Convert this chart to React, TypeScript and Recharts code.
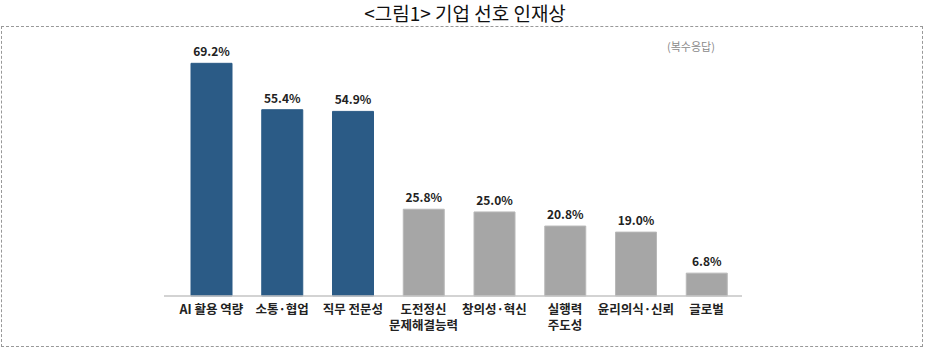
import React from "react";
import { BarChart, Bar, XAxis, YAxis, Cell, LabelList } from "recharts";

const categories: string[] = [
  "AI 활용 역량",
  "소통·협업",
  "직무 전문성",
  "도전정신\n문제해결능력",
  "창의성·혁신",
  "실행력\n주도성",
  "윤리의식·신뢰",
  "글로벌",
];
const values: number[] = [69.2, 55.4, 54.9, 25.8, 25.0, 20.8, 19.0, 6.8];
const highlighted: boolean[] = [true, true, true, false, false, false, false, false];

const data = categories.map((name, i) => ({ name, value: values[i], hi: highlighted[i] }));

const FONT = "'Noto Sans CJK KR', 'Noto Sans', sans-serif";

const Tick = (props: any) => {
  const { x, y, payload } = props;
  const lines = String(payload.value).split("\n");
  return (
    <text
      x={x}
      y={y + 10}
      textAnchor="middle"
      fontSize={12.5}
      fontWeight={700}
      fill="#222"
      fontFamily={FONT}
    >
      {lines.map((ln: string, i: number) => (
        <tspan key={i} x={x} dy={i === 0 ? 0 : 16}>
          {ln}
        </tspan>
      ))}
    </text>
  );
};

export default function App() {
  return (
    <div style={{ position: "absolute", left: 0, top: 0, width: 930, height: 353, background: "#fff" }}>
      <style>{"body{margin:0}"}</style>
      <div
        style={{
          position: "absolute",
          left: 0,
          top: 2,
          width: 930,
          textAlign: "center",
          fontFamily: FONT,
          fontSize: 19,
          lineHeight: "21px",
          color: "#111",
        }}
      >
        {"<그림1> 기업 선호 인재상"}
      </div>
      <div
        style={{
          position: "absolute",
          left: 1,
          top: 26,
          width: 920,
          height: 319,
          border: "1px dashed #999",
        }}
      />
      <div
        style={{
          position: "absolute",
          left: 667,
          top: 38,
          fontFamily: FONT,
          fontSize: 11,
          color: "#8a8a8a",
        }}
      >
        (복수응답)
      </div>
      <div style={{ position: "absolute", left: 0, top: 0 }}>
        <BarChart width={930} height={353} data={data} margin={{ top: 27, right: 188, bottom: 7, left: 164 }}>
          <YAxis hide domain={[0, 80]} />
          <XAxis
            dataKey="name"
            interval={0}
            height={50}
            padding={{ left: 12, right: 0 }}
            tickLine={false}
            axisLine={{ stroke: "#c4c4c4", strokeWidth: 1.5 }}
            tick={<Tick />}
          />
          <Bar dataKey="value" barSize={41} isAnimationActive={false}>
            {data.map((d, i) => (
              <Cell key={i} fill={d.hi ? "#2b5b86" : "#a6a6a6"} stroke={d.hi ? "#2b5b86" : "#b8b8b8"} />
            ))}
            <LabelList
              dataKey="value"
              position="top"
              offset={7}
              formatter={(v: any) => `${Number(v).toFixed(1)}%`}
              style={{ fontSize: 12, fontWeight: 700, fill: "#222", fontFamily: FONT }}
            />
          </Bar>
        </BarChart>
      </div>
    </div>
  );
}
